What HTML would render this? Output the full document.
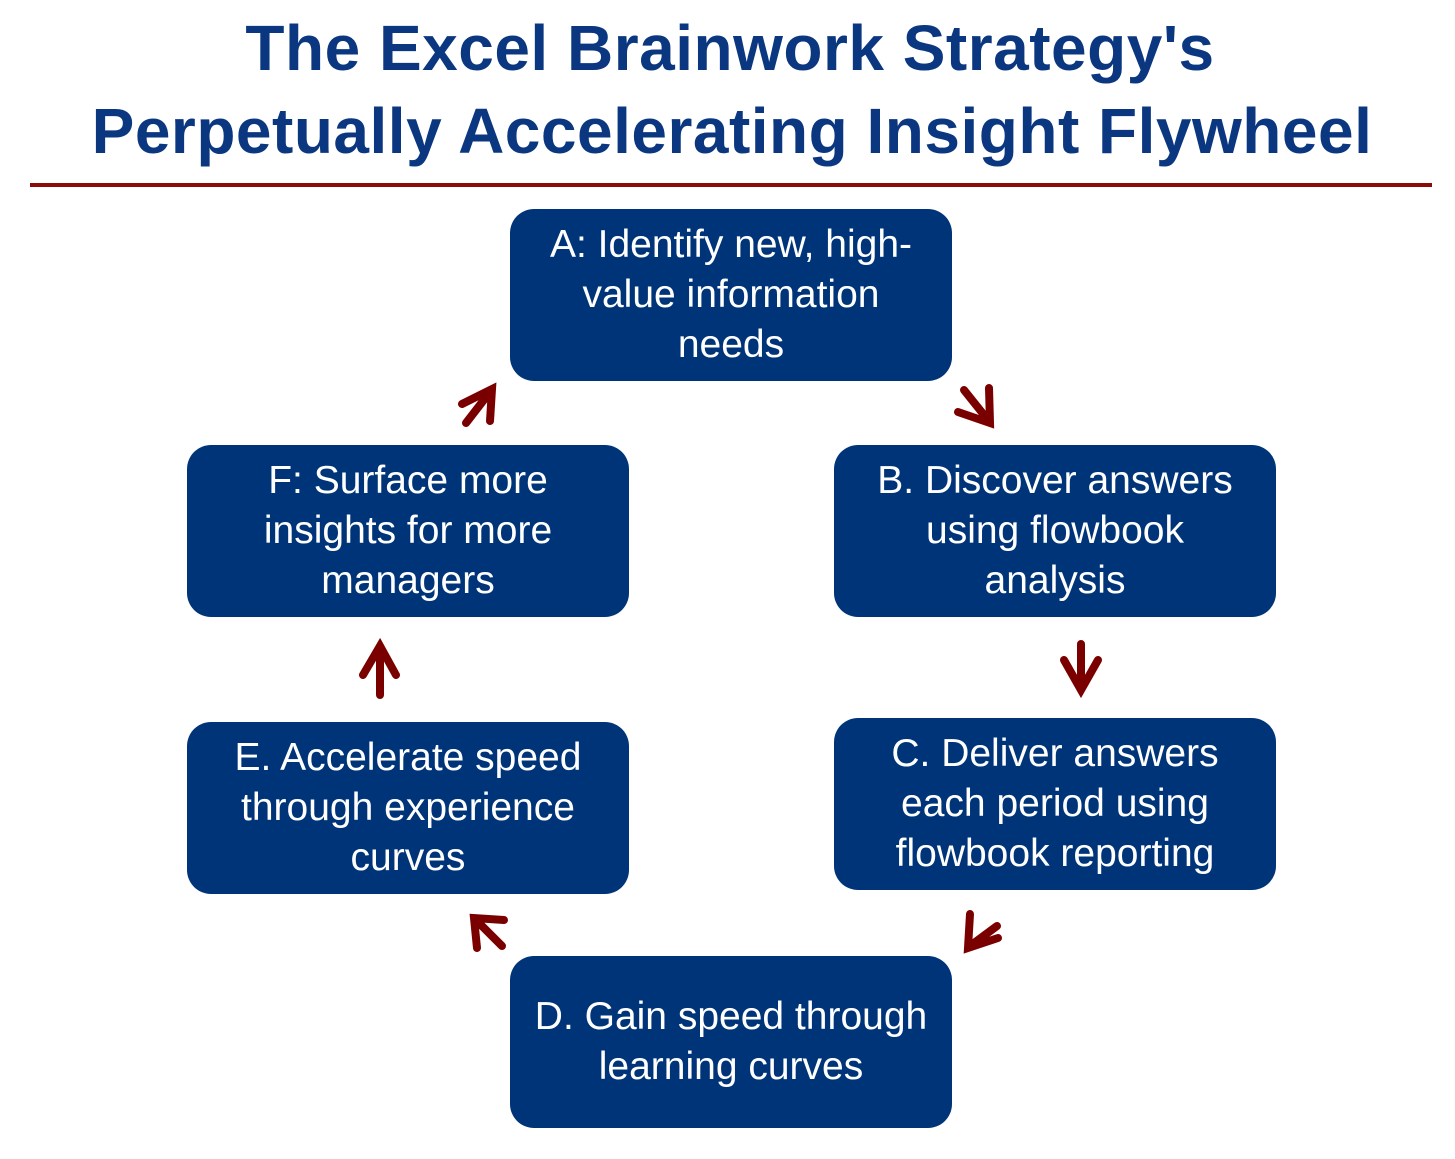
<!DOCTYPE html>
<html><head><style>
body{margin:0;width:1455px;height:1159px;background:#fff;position:relative;overflow:hidden;font-family:"Liberation Sans",sans-serif}
.t{position:absolute;left:0;width:1460px;text-align:center;font-weight:bold;font-size:64px;letter-spacing:0.5px;color:#0b3780;line-height:80px}
.b{position:absolute;width:442px;height:172px;background:#003479;border-radius:24px;color:#fff;font-size:39px;line-height:50px;display:flex;align-items:center;justify-content:center;text-align:center;box-sizing:border-box;padding:0 4px;white-space:nowrap}
</style></head><body>
<div class="t" style="top:8px">The Excel Brainwork Strategy's</div>
<div class="t" style="top:91px;left:2px">Perpetually Accelerating Insight Flywheel</div>
<div style="position:absolute;left:30px;top:183px;width:1402px;height:4px;background:#8b0a0a"></div>
<div class="b" style="left:510px;top:209px">A: Identify new, high-<br>value information<br>needs</div>
<div class="b" style="left:834px;top:445px">B. Discover answers<br>using flowbook<br>analysis</div>
<div class="b" style="left:834px;top:718px">C. Deliver answers<br>each period using<br>flowbook reporting</div>
<div class="b" style="left:510px;top:956px">D. Gain speed through<br>learning curves</div>
<div class="b" style="left:187px;top:722px">E. Accelerate speed<br>through experience<br>curves</div>
<div class="b" style="left:187px;top:445px">F: Surface more<br>insights for more<br>managers</div>
<svg width="1455" height="1159" style="position:absolute;left:0;top:0" fill="none" stroke="#7a0000" stroke-width="8" stroke-linecap="round" stroke-linejoin="miter">
<path d="M964 390 L988 420 M989 388 L990 423 L958 412"/>
<path d="M1081 644 L1081 688 M1064 660 L1081 690 L1098 660"/>
<path d="M997 926 L970 946 M970 914 L968 948 L998 938"/>
<path d="M502 946 L477 921 M477 948 L474 918 L504 920"/>
<path d="M380 695 L380 648 M363 675 L380 646 L396 675"/>
<path d="M466 423 L490 392 M462 404 L492 389 L490 421"/>
</svg>
</body></html>
